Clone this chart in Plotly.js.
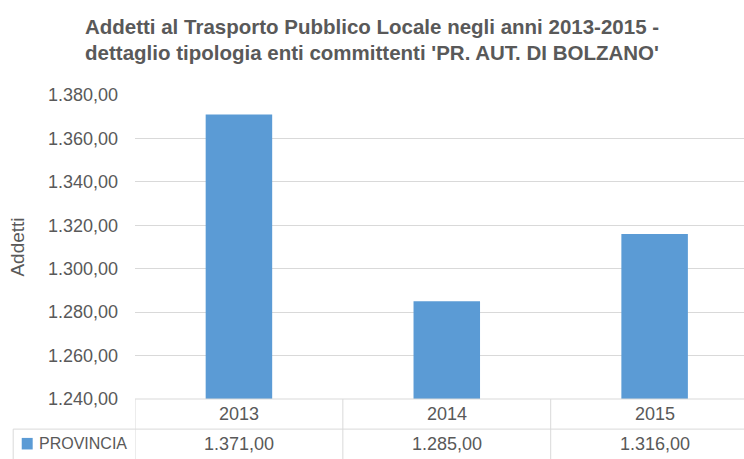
<!DOCTYPE html>
<html><head><meta charset="utf-8">
<script src="https://cdn.plot.ly/plotly-3.0.1.min.js"></script>
<style>html,body{margin:0;padding:0;background:#fff;}#chart{width:744px;height:459px;}</style>
</head><body><div id="chart"></div>
<script>
const categories = ['2013', '2014', '2015'];
const seriesName = 'PROVINCIA';
const values = [1371, 1285, 1316];
const yTicks = [1240, 1260, 1280, 1300, 1320, 1340, 1360, 1380];

const FONT = 'Liberation Sans, Arial, sans-serif';
const GRAY = '#595959';
const LINE = '#D9D9D9';
const BLUE = '#5B9BD5';

function fmt(v) {
  const s = v.toFixed(2).split('.');
  return s[0].replace(/\B(?=(\d{3})+(?!\d))/g, '.') + ',' + s[1];
}

const xs = categories.map((c, i) => i);

const trace = {
  type: 'bar', x: xs, y: values, name: seriesName,
  marker: {color: BLUE}, width: 0.32, hoverinfo: 'skip'
};

const shapes = [];
const annotations = [];
shapes.push({type: 'line', xref: 'paper', yref: 'paper', x0: 0, x1: 1.2, y0: 0, y1: 0, line: {color: LINE, width: 1}});
shapes.push({type: 'line', xref: 'paper', yref: 'paper', x0: -0.2, x1: 1.2, y0: -0.099, y1: -0.099, line: {color: LINE, width: 1}});
shapes.push({type: 'line', xref: 'paper', yref: 'paper', x0: -0.2, x1: -0.2, y0: -0.099, y1: -0.3, line: {color: LINE, width: 1}});
for (let i = 0; i < categories.length; i++) {
  shapes.push({type: 'line', xref: 'x', yref: 'paper', x0: i - 0.5, x1: i - 0.5, y0: 0, y1: -0.3, line: {color: LINE, width: 1}});
}
categories.forEach((c, i) => {
  annotations.push({xref: 'x', yref: 'paper', x: i, y: -0.048, text: c, showarrow: false,
    font: {family: FONT, size: 18, color: GRAY}, xanchor: 'center', yanchor: 'middle'});
  annotations.push({xref: 'x', yref: 'paper', x: i, y: -0.148, text: fmt(values[i]), showarrow: false,
    font: {family: FONT, size: 18, color: GRAY}, xanchor: 'center', yanchor: 'middle'});
});
annotations.push({xref: 'paper', yref: 'paper', x: -0.01, y: -0.148, text: seriesName, showarrow: false,
  font: {family: FONT, size: 16, color: GRAY}, xanchor: 'right', yanchor: 'middle'});
shapes.push({type: 'rect', xref: 'paper', yref: 'paper', x0: -0.186, x1: -0.168, y0: -0.128, y1: -0.166,
  fillcolor: BLUE, line: {width: 0}});

const layout = {
  width: 744, height: 459,
  margin: {l: 135, r: 0, t: 95, b: 60},
  paper_bgcolor: '#fff', plot_bgcolor: '#fff',
  separators: ',.',
  showlegend: false,
  title: {
    text: "<b>Addetti al Trasporto Pubblico Locale negli anni 2013-2015 -<br>dettaglio tipologia enti committenti 'PR. AUT. DI BOLZANO'</b>",
    font: {family: FONT, size: 20.5, color: GRAY},
    x: 0.5, xref: 'container', xanchor: 'center', y: 0.927, yref: 'container', yanchor: 'middle'
  },
  xaxis: {
    range: [-0.5, 2.43], showticklabels: false, showgrid: false, zeroline: false,
    showline: false, ticks: ''
  },
  yaxis: {
    range: [1240, 1380], tickvals: yTicks, tickformat: ',.2f',
    showgrid: true, gridcolor: LINE, gridwidth: 1, zeroline: false, showline: false,
    tickfont: {family: FONT, size: 18, color: GRAY}, ticks: '', ticklen: 0, automargin: false,
    ticklabelstandoff: 16,
    title: {text: 'Addetti', font: {family: FONT, size: 19, color: GRAY}, standoff: 18}
  },
  shapes: shapes, annotations: annotations
};
Plotly.newPlot('chart', [trace], layout, {displayModeBar: false, staticPlot: true});
</script></body></html>
